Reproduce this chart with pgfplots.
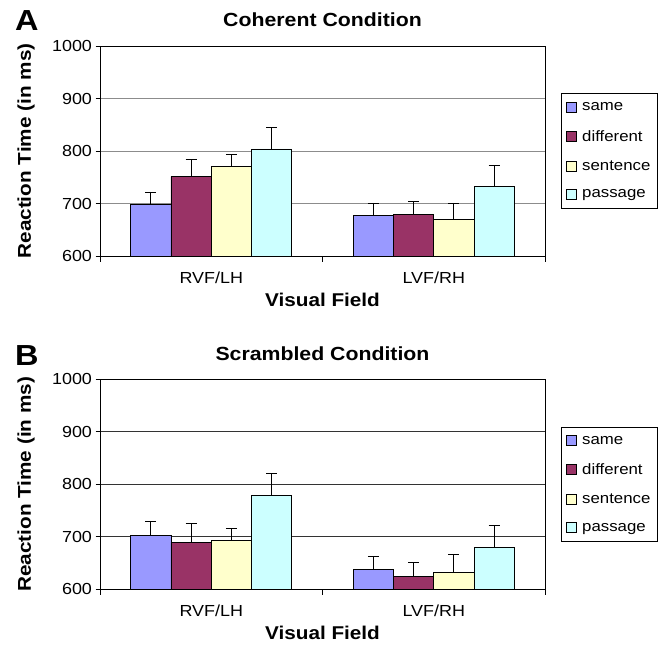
\documentclass[border=0pt]{standalone}
\usepackage{fontspec}
\setmainfont{Liberation Sans}[FakeStretch=1.12]
\usepackage{pgfplots}
\pgfplotsset{compat=1.18}

\definecolor{cSame}{HTML}{9999FF}
\definecolor{cDiff}{HTML}{993366}
\definecolor{cSent}{HTML}{FFFFCC}
\definecolor{cPass}{HTML}{CCFFFF}

\pgfplotsset{
  rtpanel/.style={
    width=445pt, height=210pt, scale only axis,
    ybar=0pt, bar width=40.3pt,
    xmin=-0.5, xmax=1.5, ymin=600, ymax=1000,
    ytick={600,700,800,900,1000},
    xtick={0,1}, xticklabels={RVF/LH, LVF/RH},
    minor xtick={-0.5,0.5,1.5},
    tick align=outside, xtick pos=bottom, ytick pos=left,
    major tick length=4.5pt, minor tick length=5.5pt,
    major x tick style={draw=none},
    every tick/.style={black, line width=0.8pt},
    axis line style={line width=0.8pt},
    ymajorgrids,
    /pgf/number format/assume math mode=true,
    /pgf/number format/1000 sep={},
    ticklabel style={font=\fontsize{16}{18}\selectfont},
    xticklabel style={anchor=base, yshift=-23pt},
    title style={font=\bfseries\fontsize{19}{21}\selectfont, anchor=base, at={(0.5,1)}, yshift=13pt},
    xlabel={Visual Field},
    xlabel style={font=\bfseries\fontsize{18.5}{20}\selectfont, at={(rel axis cs:0.5,0)}, anchor=center, yshift=-44pt},
    ylabel={Reaction Time (in ms)},
    ylabel style={font=\bfseries\fontsize{18.5}{20}\selectfont, at={(rel axis cs:0,0.5)}, anchor=center, yshift=74pt},
    legend image code/.code={\draw[#1, draw=black, line width=0.8pt] (0pt,-5pt) rectangle (10pt,5pt);},
    legend style={at={(1,0.5)}, anchor=west, xshift=16pt, draw=black, line width=0.8pt,
      font=\fontsize{15}{17}\selectfont, row sep=14pt, column sep=3pt, inner xsep=5pt, inner ysep=7pt},
    legend cell align=left,
    rtbar/.style={draw=black, line width=0.8pt, fill=##1,
      error bars/.cd, y dir=plus, y explicit, error mark=-,
      error bar style={black, line width=0.9pt},
      error mark options={black, rotate=90, mark size=5.5pt, line width=0.9pt}},
  }
}

\begin{document}
\begin{tikzpicture}
\useasboundingbox (0pt,0pt) rectangle (668pt,-644pt);

\begin{axis}[rtpanel, at={(100pt,-256pt)}, anchor=south west,
  title={Coherent Condition}, grid style={gray!90, line width=0.9pt}]
\addplot[rtbar=cSame] coordinates {(0,699) +- (0,23) (1,677) +- (0,24)};
\addplot[rtbar=cDiff] coordinates {(0,751) +- (0,32) (1,679) +- (0,24)};
\addplot[rtbar=cSent] coordinates {(0,770) +- (0,24) (1,669) +- (0,32)};
\addplot[rtbar=cPass] coordinates {(0,804) +- (0,40) (1,732) +- (0,40)};
\legend{same, different, sentence, passage}
\end{axis}

\begin{axis}[rtpanel, at={(100pt,-589.3pt)}, anchor=south west,
  title={Scrambled Condition}, grid style={black!80, line width=0.9pt}]
\addplot[rtbar=cSame] coordinates {(0,703) +- (0,27) (1,637) +- (0,26)};
\addplot[rtbar=cDiff] coordinates {(0,690) +- (0,35) (1,624) +- (0,27)};
\addplot[rtbar=cSent] coordinates {(0,693) +- (0,23) (1,632) +- (0,35)};
\addplot[rtbar=cPass] coordinates {(0,778) +- (0,42) (1,680) +- (0,41)};
\legend{same, different, sentence, passage}
\end{axis}

\node[font=\bfseries\fontsize{29}{30}\selectfont, anchor=north west, inner sep=0pt] at (15pt,-10pt) {A};
\node[font=\bfseries\fontsize{29}{30}\selectfont, anchor=north west, inner sep=0pt] at (15pt,-345pt) {B};
\end{tikzpicture}
\end{document}
